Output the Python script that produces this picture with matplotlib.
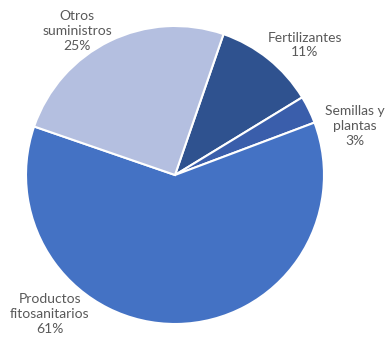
import matplotlib.pyplot as plt

# Data
categories = ["Fertilizantes", "Semillas y\nplantas", "Productos\nfitosanitarios", "Otros\nsuministros"]
shares = [11, 3, 61, 25]
colors = ["#2F528F", "#3A5EAB", "#4472C4", "#B4BFE0"]

plt.rcParams['font.family'] = ['Lato', 'DejaVu Sans']

fig = plt.figure(figsize=(3.9, 3.4), dpi=100)
ax = fig.add_axes([0, 0, 1, 1])

wedges, _ = ax.pie(shares, colors=colors, startangle=71, counterclock=False,
                   center=(175, 165), radius=149, frame=True,
                   wedgeprops=dict(edgecolor='white', linewidth=1.5))
ax.set_xlim(0, 390)
ax.set_ylim(0, 340)
ax.set_aspect('equal')
ax.axis('off')

# label positions in pixel coords (y from top)
label_pos = [(305, 45), (355, 126), (50, 314), (77, 31)]
for cat, val, (x, y) in zip(categories, shares, label_pos):
    ax.text(x, 340 - y, f"{cat}\n{val}%", ha='center', va='center',
            fontsize=10, color='#595959', linespacing=1.3)

fig.savefig("out.png", dpi=100)
